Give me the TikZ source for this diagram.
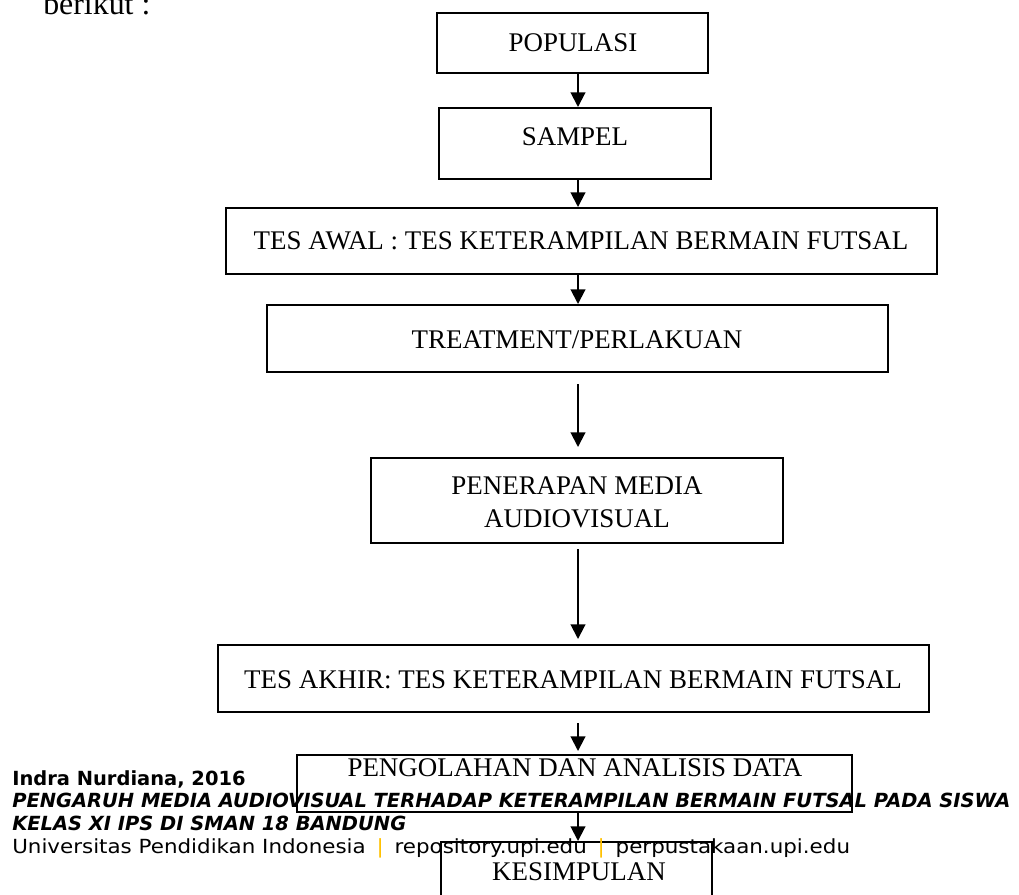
\documentclass[tikz,border=0pt]{standalone}
\usepackage{fontspec}
\setmainfont{Liberation Serif}
\newfontfamily\footfont{DejaVu Sans}
\newfontfamily\footwide[FakeStretch=1.1]{DejaVu Sans}
\usetikzlibrary{arrows.meta,fit}
\definecolor{sepcol}{RGB}{255,192,0}
\begin{document}
\begin{tikzpicture}[x=0.75pt,y=-0.75pt,
  box/.style={draw, line width=1.5pt, inner sep=0pt, fit=#1},
  txt/.style={font=\fontsize{20.2}{24.5}\selectfont, inner sep=0pt, align=center},
  flow/.style={line width=1.5pt, -{Triangle[width=11pt,length=11pt]}},
  foot/.style={font=\footfont\fontsize{14.6}{17}\selectfont, anchor=base west, inner sep=0pt}]
\useasboundingbox (0,0) rectangle (1019,894);
\clip (0,0) rectangle (1019,894);
% corners
\coordinate (c1a) at (437,13);  \coordinate (c1b) at (708,73);
\coordinate (c2a) at (439,108); \coordinate (c2b) at (711,179);
\coordinate (c3a) at (226,208); \coordinate (c3b) at (937,274);
\coordinate (c4a) at (267,305); \coordinate (c4b) at (888,372);
\coordinate (c5a) at (371,458); \coordinate (c5b) at (783,543);
\coordinate (c6a) at (218,645); \coordinate (c6b) at (929,712);
\coordinate (c7a) at (297,755); \coordinate (c7b) at (852,812);
\coordinate (c8a) at (441,842); \coordinate (c8b) at (712,912);
\coordinate (ax) at (578,0);
% boxes
\node[box={(c1a)(c1b)}] (pop) {};
\node[box={(c2a)(c2b)}] (sam) {};
\node[box={(c3a)(c3b)}] (awal) {};
\node[box={(c4a)(c4b)}] (treat) {};
\node[box={(c5a)(c5b)}] (pen) {};
\node[box={(c6a)(c6b)}] (akhir) {};
\node[box={(c7a)(c7b)}] (olah) {};
\node[box={(c8a)(c8b)}] (kes) {};
% texts
\node[txt] (tpop) at (573,43) {POPULASI};
\node[txt] (tsam) at (575,137) {SAMPEL};
\node[txt] (tawal) at (581,241) {TES AWAL : TES KETERAMPILAN BERMAIN FUTSAL};
\node[txt] (ttreat) at (577,340) {TREATMENT/PERLAKUAN};
\node[txt] (tpen) at (577,502) {PENERAPAN MEDIA\\AUDIOVISUAL};
\node[txt] (takhir) at (573,680) {TES AKHIR: TES KETERAMPILAN BERMAIN FUTSAL};
\node[txt] (tolah) at (575,768) {PENGOLAHAN DAN ANALISIS DATA};
\node[txt] (tkes) at (579,872) {KESIMPULAN};
\node[txt, font=\fontsize{23.9}{28}\selectfont, anchor=base west] (ber) at (43,14) {berikut :};
% arrows
\draw[flow] (pop.south -| ax) -- (sam.north -| ax);
\draw[flow] (sam.south -| ax) -- (awal.north -| ax);
\draw[flow] (awal.south -| ax) -- (treat.north -| ax);
\draw[flow, shorten <=11pt*0.75, shorten >=10pt*0.75] (treat.south -| ax) -- (pen.north -| ax);
\draw[flow, shorten <=5pt*0.75, shorten >=5pt*0.75] (pen.south -| ax) -- (akhir.north -| ax);
\draw[flow, shorten <=10pt*0.75, shorten >=3pt*0.75] (akhir.south -| ax) -- (olah.north -| ax);
\draw[flow] (olah.south -| ax) -- (kes.north -| ax);
% footer
\node[foot] (f1) at (12,785) {\bfseries Indra Nurdiana, 2016};
\node[foot] (f2) at (12,807) {\bfseries\itshape PENGARUH MEDIA AUDIOVISUAL TERHADAP KETERAMPILAN BERMAIN FUTSAL PADA SISWA};
\node[foot] (f3) at (12,830) {\bfseries\itshape KELAS XI IPS DI SMAN 18 BANDUNG};
\node[foot, font=\footwide\fontsize{14.6}{17}\selectfont] (f4) at (12,853) {Universitas Pendidikan Indonesia\hspace{3pt} {\color{sepcol}|}\hspace{3pt} repository.upi.edu\hspace{3pt} {\color{sepcol}|}\hspace{3pt} perpustakaan.upi.edu};
\end{tikzpicture}
\end{document}
